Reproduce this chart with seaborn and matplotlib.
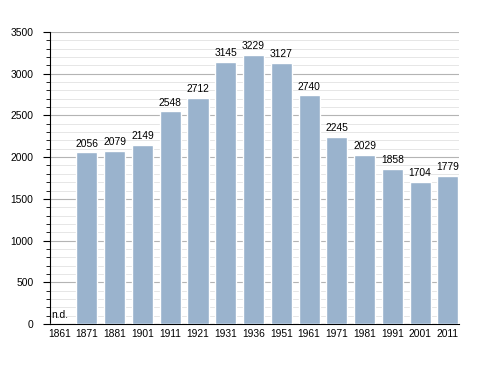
import matplotlib
matplotlib.use("Agg")
import matplotlib.pyplot as plt
import seaborn as sns
import pandas as pd
import numpy as np
from matplotlib.ticker import MultipleLocator

years = ["1861", "1871", "1881", "1901", "1911", "1921", "1931", "1936",
         "1951", "1961", "1971", "1981", "1991", "2001", "2011"]
population = [0, 2056, 2079, 2149, 2548, 2712, 3145, 3229,
              3127, 2740, 2245, 2029, 1858, 1704, 1779]
labels = ["n.d.", "2056", "2079", "2149", "2548", "2712", "3145", "3229",
          "3127", "2740", "2245", "2029", "1858", "1704", "1779"]

df = pd.DataFrame({"year": years, "pop": population})

sns.set_style("white")
plt.rcParams['font.family'] = ['Liberation Sans', 'DejaVu Sans']
plt.rcParams['text.color'] = 'black'
plt.rcParams['xtick.color'] = 'black'
plt.rcParams['ytick.color'] = 'black'

FS = 7.4

fig = plt.figure(figsize=(4.88, 3.73), dpi=100)
ax = fig.add_axes([50/488, 1 - 324/373, 409/488, 292/373])

ax.set_ylim(0, 3500)
ax.yaxis.set_major_locator(MultipleLocator(500))
ax.yaxis.set_minor_locator(MultipleLocator(100))
ax.grid(which="major", axis="y", color="#b4b4b4", linewidth=0.8)
ax.grid(which="minor", axis="y", color="#e6e6e6", linewidth=0.7)
ax.set_axisbelow(True)

sns.barplot(data=df, x="year", y="pop", color="#9ab3cd", saturation=1,
            width=0.76, ax=ax, zorder=3)

for i, (v, t) in enumerate(zip(population, labels)):
    if t == "n.d.":
        ax.text(i - 0.28, 50, t, ha="left", va="bottom", fontsize=FS, color="black")
    else:
        ax.text(i, v + 45, t, ha="center", va="bottom", fontsize=FS, color="black")

ax.set_xlim(-0.33, len(years) - 1 + 0.4)
ax.set_xlabel("")
ax.set_ylabel("")
for s in ["top", "right"]:
    ax.spines[s].set_visible(False)
ax.spines["left"].set_color("black")
ax.spines["bottom"].set_color("black")
ax.spines["left"].set_linewidth(0.8)
ax.spines["bottom"].set_linewidth(0.8)
ax.tick_params(axis="y", which="major", length=5, width=0.8, labelsize=FS, left=True, color="black", labelcolor="black", pad=7)
ax.tick_params(axis="y", which="minor", length=3, width=0.6, left=True, color="black")
ax.tick_params(axis="x", length=0, labelsize=FS, labelcolor="black", pad=3.5)

fig.savefig("out.png", dpi=100)
